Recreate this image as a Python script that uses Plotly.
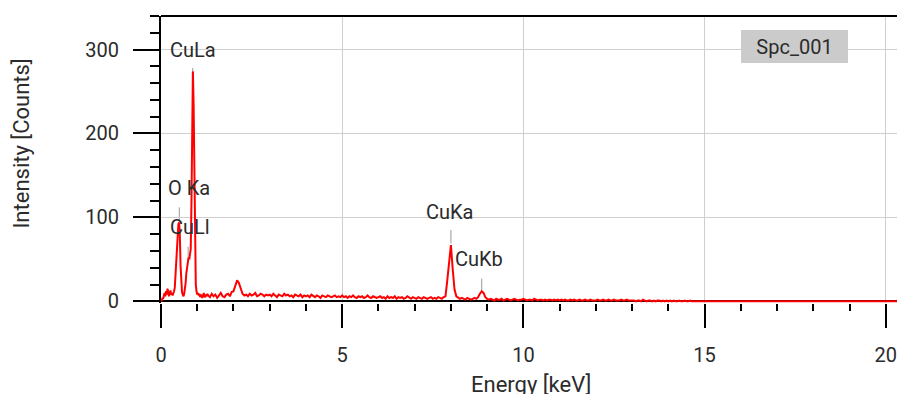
import numpy as np
import plotly.graph_objects as go

# ---------------- data ----------------
# Segment A: 0.00 - 1.28 keV, 0.02 keV channels
A_START, A_STEP = 0.0, 0.02
COUNTS_A = [0, 1, 4, 3, 7, 10, 6, 12, 8, 15, 11, 6, 9, 13, 8, 10, 7, 9, 12, 16,
            30, 48, 68, 84, 92, 94, 78, 42, 20, 11, 8, 6, 9, 14, 22, 34, 42, 46, 52, 50,
            55, 62, 115, 205, 274, 235, 135, 55, 20, 12, 8,
            10, 7, 9, 5, 8, 6, 4, 7, 10, 6, 5, 8, 6, 9]
# Segment B: 1.30 - 14.95 keV, 0.05 keV channels
B_START, B_STEP = 1.30, 0.05
COUNTS_B = (
    [7, 5, 9, 6, 8, 4, 7, 10, 6, 5, 8, 9, 6, 11]
    + [12, 18, 25, 22, 14, 9, 7, 8, 6, 9, 7, 8, 10, 6, 7, 9, 8, 6, 8, 7]
    + [8, 6, 9, 7, 5, 8, 7, 6, 9, 7, 8, 6, 7, 5, 8, 7, 6, 8, 5, 7]
    + [6, 7, 5, 8, 6, 5, 7, 6, 4, 7, 6, 5, 7, 6, 5, 6, 7, 5, 6, 5]
    + [7, 5, 6, 4, 6, 5, 7, 5, 4, 6, 5, 6, 4, 5, 7, 5, 4, 6, 5, 4]
    + [5, 6, 4, 5, 3, 6, 4, 5, 4, 6, 3, 5, 4, 5, 3, 4, 6, 4, 3, 5]
    + [4, 3, 5, 4, 3, 5, 4, 3, 4, 5, 3, 4, 3, 5, 4, 3, 5, 6, 25, 48]
    + [67, 38, 14, 6, 4, 3, 4, 3, 2, 4, 3, 2, 3, 4, 3, 5, 9, 12, 10, 5]
    + [3, 2, 3, 2, 1, 3, 2, 2, 3, 1, 2, 3, 2, 1, 2, 3, 2, 1, 2, 2]
    + [3, 2, 1, 2, 2, 1, 3, 2, 1, 2, 2, 1, 2, 1, 2, 2, 1, 2, 1, 2]
    + [1, 2, 1, 2, 1, 1, 2, 1, 2, 1, 1, 2, 1, 1, 2, 1, 1, 2, 1, 1]
    + [1, 2, 1, 1, 2, 1, 1, 2, 1, 1, 2, 1, 1, 1, 2, 1, 1, 2, 1, 1]
    + [1, 1, 0, 1, 1, 0, 2, 1, 0, 1, 1, 0, 1, 0, 1, 1, 0, 1, 0, 1]
    + [0, 1, 0, 1, 0, 0, 1, 0, 0, 1, 0, 0, 1, 0, 0, 0, 0, 0, 0, 0]
)
# Tail: flat zero counts
TAIL_E = [15.0, 20.4]
TAIL_COUNTS = [0, 0]

PEAK_NAMES = ["O Ka", "CuLl", "CuLa", "CuKa", "CuKb"]
PEAK_E = [0.505, 0.75, 0.875, 8.0, 8.85]
PEAK_MARK_LOW = [94, 51, 272, 69, 13]
PEAK_MARK_HIGH = [112, 65, 278, 85, 27]

SPECTRUM_NAME = "Spc_001"

X_TICKS = [0, 5, 10, 15, 20]
Y_TICKS = [0, 100, 200, 300]

# ---------------- build ----------------
E_A = A_START + A_STEP * np.arange(len(COUNTS_A))
E_B = B_START + B_STEP * np.arange(len(COUNTS_B))
energy = np.concatenate([E_A, E_B, TAIL_E])
counts = np.concatenate([COUNTS_A, COUNTS_B, TAIL_COUNTS])

FONT = "Roboto"
TXT = "#2b2b2b"

fig = go.Figure()
fig.add_trace(go.Scatter(x=energy, y=counts, mode="lines",
                         line=dict(color="#ff0000", width=2),
                         hoverinfo="skip", showlegend=False))

# peak marker lines
for e, lo, hi in zip(PEAK_E, PEAK_MARK_LOW, PEAK_MARK_HIGH):
    fig.add_shape(type="line", xref="x", yref="y", x0=e, x1=e, y0=lo, y1=hi,
                  line=dict(color="#999999", width=1), layer="below")

# peak label placement (x in keV, y in counts)
label_pos = {
    "CuLa": (0.20, 300),
    "O Ka": (0.15, 135),
    "CuLl": (0.20, 88),
    "CuKa": (7.27, 106),
    "CuKb": (8.07, 50),
}
for name in PEAK_NAMES:
    lx, ly = label_pos[name]
    fig.add_annotation(x=lx, y=ly, xref="x", yref="y", text=name, showarrow=False,
                       xanchor="left", yanchor="middle",
                       font=dict(family=FONT, size=20, color=TXT))

# spectrum name box
fig.add_annotation(x=0.8607, y=0.8927, xref="paper", yref="paper", text=SPECTRUM_NAME,
                   showarrow=False, xanchor="center", yanchor="middle",
                   width=107, height=33, bgcolor="#cbcbcb", borderpad=0, borderwidth=0,
                   font=dict(family=FONT, size=20, color=TXT))

# axis titles
fig.add_annotation(x=-0.189, y=0.555, xref="paper", yref="paper", text="Intensity [Counts]",
                   textangle=-90, showarrow=False, xanchor="center", yanchor="middle",
                   font=dict(family=FONT, size=22, color=TXT))
fig.add_annotation(x=0.5027, y=-0.283, xref="paper", yref="paper", text="Energy [keV]",
                   showarrow=False, xanchor="center", yanchor="middle",
                   font=dict(family=FONT, size=22, color=TXT))

# top border
fig.add_shape(type="line", xref="paper", yref="paper", x0=0, x1=1, y0=1, y1=1,
              line=dict(color="black", width=2))

fig.update_layout(
    width=897, height=394,
    margin=dict(l=161, r=0, t=16, b=91),
    paper_bgcolor="white", plot_bgcolor="white",
    showlegend=False,
    font=dict(family=FONT, size=20, color=TXT),
)
fig.update_xaxes(
    range=[0, 20.31], tickvals=X_TICKS, ticktext=[str(v) for v in X_TICKS],
    showline=False, zeroline=False,
    showgrid=True, gridcolor="#cfcfcf", gridwidth=1,
    ticks="outside", ticklen=24, tickwidth=2, tickcolor="black",
    ticklabelstandoff=10, ticklabeloverflow="allow",
    minor=dict(dtick=1, tick0=0, ticks="outside", ticklen=7, tickwidth=2,
               tickcolor="black", showgrid=False),
    tickfont=dict(family=FONT, size=20, color=TXT),
)
fig.update_yaxes(
    range=[-2, 340], tickvals=Y_TICKS, ticktext=[str(v) for v in Y_TICKS],
    showline=True, linecolor="black", linewidth=2,
    zeroline=True, zerolinecolor="black", zerolinewidth=2,
    showgrid=True, gridcolor="#cfcfcf", gridwidth=1,
    ticks="outside", ticklen=26, tickwidth=2, tickcolor="black",
    ticklabelstandoff=10,
    minor=dict(dtick=20, tick0=0, ticks="outside", ticklen=9, tickwidth=2,
               tickcolor="black", showgrid=False),
    tickfont=dict(family=FONT, size=20, color=TXT),
)

fig.write_html("out.html")
